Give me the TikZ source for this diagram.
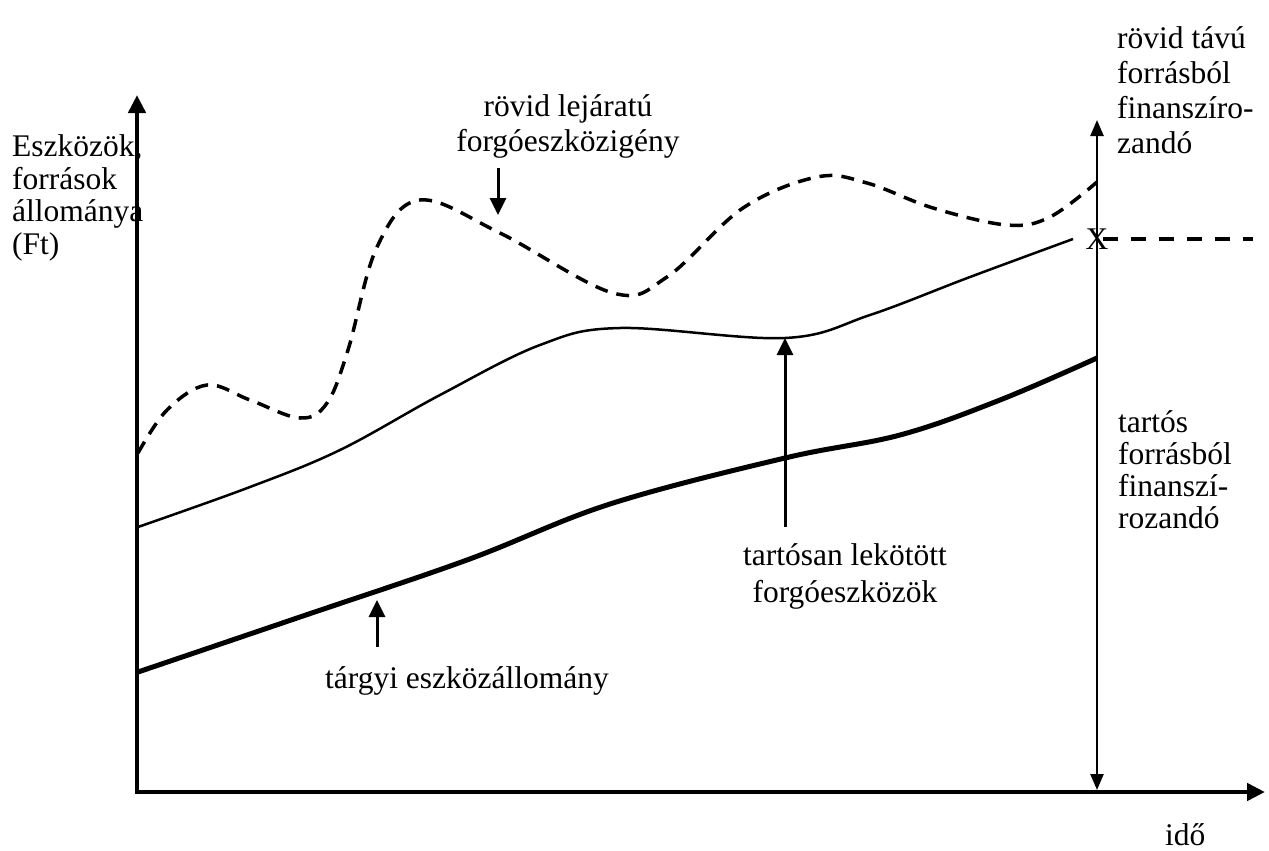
\documentclass[tikz,border=0pt]{standalone}
\usepackage{fontspec}
\setmainfont{Liberation Serif}
\usetikzlibrary{arrows.meta}
\begin{document}
\begin{tikzpicture}[x=1pt,y=-1pt,
  lbl/.style={inner sep=0pt, font=\fontsize{31.5}{35}\selectfont},
  axisline/.style={line width=4.5pt, line join=miter,
    {Triangle[length=18pt,width=17pt]}-{Triangle[length=18pt,width=17pt]}},
  spanline/.style={line width=2.5pt,
    {Triangle[length=16pt,width=13pt]}-{Triangle[length=16pt,width=13pt]}},
  pointer/.style={line width=3pt, -{Triangle[length=17pt,width=16pt]}},
  fixedcurve/.style={line width=5pt},
  permcurve/.style={line width=2.5pt},
  needcurve/.style={line width=3.5pt, dash pattern=on 13pt off 9pt},
  levelline/.style={line width=3.5pt, dash pattern=on 15pt off 13pt}
]
\useasboundingbox (0,0) rectangle (1269,851);

% axes
\coordinate (O) at (137,792);
\coordinate (ytip) at (137,95);
\coordinate (xtip) at (1265,792);
\draw[axisline] (ytip) -- (O) -- (xtip);

% financing span on the right
\coordinate (spantop) at (1097,120);
\coordinate (spanbot) at (1097,790);
\draw[spanline] (spantop) -- (spanbot);

% fixed assets (thick)
\draw[fixedcurve] plot[smooth, tension=0.6] coordinates {
  (138,672) (300,617) (467,560) (610,504) (785,458) (900,435)
  (1000,400) (1097,358)};

% permanently tied current assets (thin)
\draw[permcurve] plot[smooth, tension=0.6] coordinates {
  (138,527) (250,487) (340,450) (440,395) (540,345) (620,328)
  (785,338) (870,315) (970,277) (1073,239)};

% short-term current asset requirement (dashed)
\draw[needcurve] plot[smooth, tension=0.6] coordinates {
  (138,453) (167,410) (207,385) (250,400) (300,418) (327,403)
  (348,350) (377,247) (420,200) (500,233) (613,293) (667,277)
  (743,208) (817,177) (867,183) (933,208) (1007,225) (1050,217)
  (1097,182)};

% level mark and horizontal dashed line
\node[lbl] (xmark) at (1097,239) {X};
\coordinate (levelend) at (1253,239);
\draw[levelline] (1103,239) -- (levelend);

% labels
\node[lbl, font=\fontsize{31.5}{32.5}\selectfont, align=left, anchor=north west]
  (ylabel) at (12,134) {\strut Eszközök,\\források\\állománya\\(Ft)};
\node[lbl, anchor=base west] (xlabel) at (1165,845) {idő};
\node[lbl, align=left, anchor=north west]
  (shortlbl) at (1117,24) {\strut rövid távú\\forrásból\\finanszíro-\\zandó};
\node[lbl, font=\fontsize{31.5}{32}\selectfont, align=left, anchor=north west]
  (longlbl) at (1118,409.6) {\strut tartós\\forrásból\\finanszí-\\rozandó};
\node[lbl, align=center, anchor=north]
  (needlbl) at (568,92) {\strut rövid lejáratú\\forgóeszközigény};
\node[lbl, font=\fontsize{31.5}{37.5}\selectfont, align=center, anchor=north]
  (permlbl) at (845,538.75) {\strut tartósan lekötött\\forgóeszközök};
\node[lbl, anchor=base west] (fixedlbl) at (325,688) {tárgyi eszközállomány};

% pointers
\coordinate (needfrom) at (498,168);
\coordinate (needto) at (498,215);
\draw[pointer] (needfrom) -- (needto);
\coordinate (permfrom) at (785,527);
\coordinate (permto) at (785,338);
\draw[pointer] (permfrom) -- (permto);
\coordinate (fixedfrom) at (377,647);
\coordinate (fixedto) at (377,600);
\draw[pointer] (fixedfrom) -- (fixedto);
\end{tikzpicture}
\end{document}
